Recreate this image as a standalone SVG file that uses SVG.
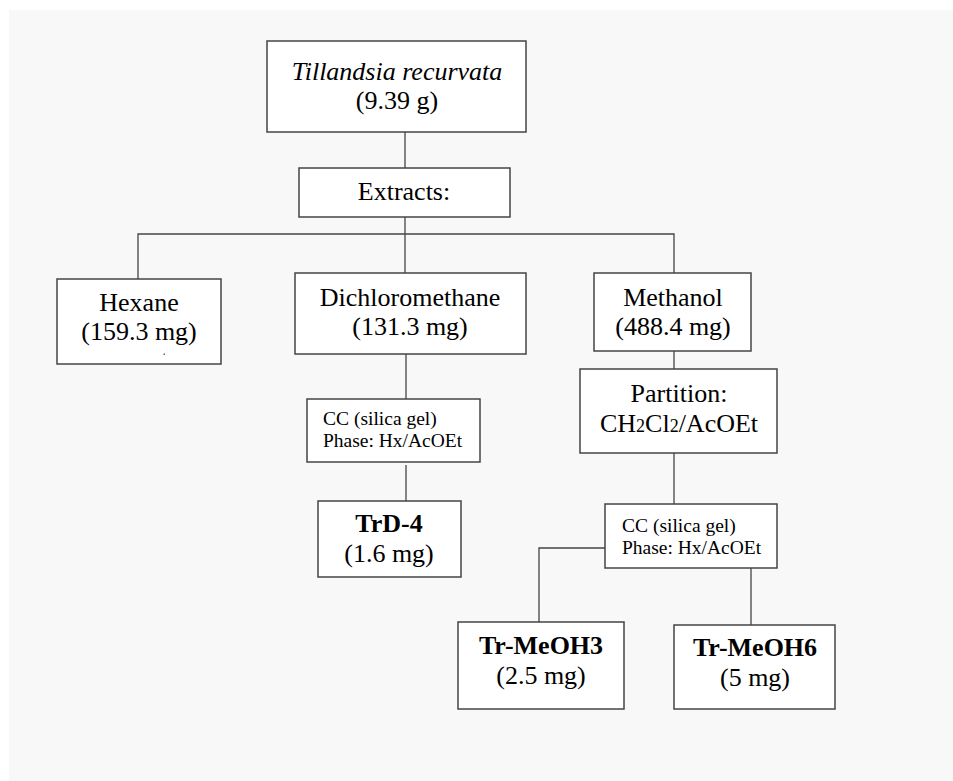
<svg xmlns="http://www.w3.org/2000/svg" width="953" height="781" viewBox="0 0 953 781">
<style>
.box{fill:#fff;stroke:#444;stroke-width:1.5}
.ln{fill:none;stroke:#444;stroke-width:1.3}
text{font-family:"Liberation Serif","Times New Roman",serif;fill:#000}
.t{font-size:26px;text-anchor:middle}
.b{font-weight:bold}
.s{font-size:19.5px}
</style>
<rect x="0" y="0" width="953" height="781" fill="#fff"/>
<rect x="9" y="10" width="944" height="771" fill="#f8f8f8"/>
<g id="connectors">
<path class="ln" d="M405 132V168"/>
<path class="ln" d="M405 217V273"/>
<path class="ln" d="M138 279V234H674V273"/>
<path class="ln" d="M406 354V399"/>
<path class="ln" d="M406 465V501"/>
<path class="ln" d="M674 351V369"/>
<path class="ln" d="M674 453V504"/>
<path class="ln" d="M605 548H539V622"/>
<path class="ln" d="M751 567V625"/>
</g>
<g id="n-tillandsia">
<rect class="box" x="267" y="41" width="259" height="91"/>
<text class="t" x="397" y="80" font-style="italic">Tillandsia recurvata</text>
<text class="t" x="397" y="109">(9.39 g)</text>
</g>
<g id="n-extracts">
<rect class="box" x="299" y="168" width="211" height="49"/>
<text class="t" x="404" y="200">Extracts:</text>
</g>
<g id="n-hexane">
<rect class="box" x="57" y="279" width="164" height="85"/>
<text class="t" x="139" y="311">Hexane</text>
<text class="t" x="139" y="340">(159.3 mg)</text>
<rect x="163.5" y="353.5" width="1.5" height="1.5" fill="#666"/>
</g>
<g id="n-dcm">
<rect class="box" x="295" y="273" width="231" height="81"/>
<text class="t" x="410" y="306">Dichloromethane</text>
<text class="t" x="410" y="335">(131.3 mg)</text>
</g>
<g id="n-methanol">
<rect class="box" x="594" y="273" width="157" height="78"/>
<text class="t" x="673" y="306">Methanol</text>
<text class="t" x="673" y="335">(488.4 mg)</text>
</g>
<g id="n-partition">
<rect class="box" x="580" y="369" width="197" height="84"/>
<text class="t" x="679" y="402">Partition:</text>
<text class="t" x="679" y="432">CH<tspan font-size="18">2</tspan>Cl<tspan font-size="18">2</tspan>/AcOEt</text>
</g>
<g id="n-cc1">
<rect class="box" x="307" y="399" width="173" height="63"/>
<text class="s" x="323" y="425">CC (silica gel)</text>
<text class="s" x="323" y="447">Phase: Hx/AcOEt</text>
</g>
<g id="n-trd4">
<rect class="box" x="318" y="501" width="143" height="76"/>
<text class="t b" x="389" y="532">TrD-4</text>
<text class="t" x="389" y="562">(1.6 mg)</text>
</g>
<g id="n-cc2">
<rect class="box" x="605" y="504" width="172" height="64"/>
<text class="s" x="622" y="532">CC (silica gel)</text>
<text class="s" x="622" y="554">Phase: Hx/AcOEt</text>
</g>
<g id="n-trmeoh3">
<rect class="box" x="458" y="622" width="166" height="87"/>
<text class="t b" x="541" y="654">Tr-MeOH3</text>
<text class="t" x="541" y="684">(2.5 mg)</text>
</g>
<g id="n-trmeoh6">
<rect class="box" x="674" y="625" width="161" height="84"/>
<text class="t b" x="755" y="656">Tr-MeOH6</text>
<text class="t" x="755" y="686">(5 mg)</text>
</g>
</svg>
